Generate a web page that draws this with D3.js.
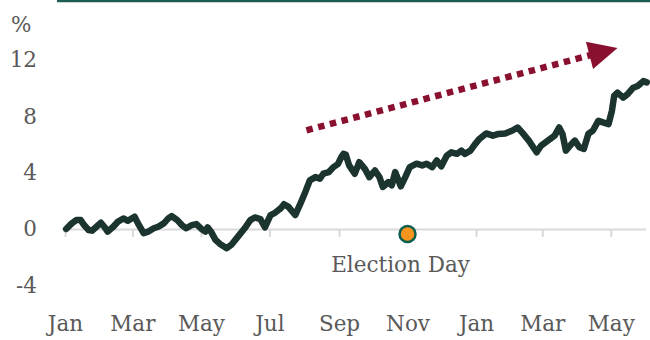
<!DOCTYPE html>
<html>
<head>
<meta charset="utf-8">
<script src="https://cdn.jsdelivr.net/npm/d3@7"></script>
<style>
  body { margin: 0; background: #fff; }
  svg { display: block; }
  text { font-family: "DejaVu Serif", serif; fill: #595959; }
</style>
</head>
<body>
<div id="chart"></div>
<script>
// series (% change)
const dates = [
  "2024-01-02","2024-01-07","2024-01-11","2024-01-15","2024-01-18","2024-01-22","2024-01-25","2024-01-29",
  "2024-02-02","2024-02-05","2024-02-08","2024-02-13","2024-02-17","2024-02-22","2024-02-26",
  "2024-03-03","2024-03-06","2024-03-11","2024-03-15","2024-03-20","2024-03-24","2024-03-29",
  "2024-04-02","2024-04-05","2024-04-10","2024-04-14","2024-04-18","2024-04-23","2024-04-27",
  "2024-05-02","2024-05-05","2024-05-07","2024-05-10","2024-05-14","2024-05-18","2024-05-24","2024-05-28",
  "2024-06-03","2024-06-09","2024-06-14","2024-06-18","2024-06-23","2024-06-27",
  "2024-07-02","2024-07-06","2024-07-11","2024-07-14","2024-07-18","2024-07-24","2024-07-28",
  "2024-08-02","2024-08-06","2024-08-11","2024-08-15","2024-08-18","2024-08-23","2024-08-27","2024-08-31",
  "2024-09-03","2024-09-05","2024-09-07","2024-09-10","2024-09-15","2024-09-19","2024-09-24","2024-09-28",
  "2024-10-03","2024-10-07","2024-10-10","2024-10-15","2024-10-18","2024-10-21","2024-10-26","2024-10-30",
  "2024-11-03","2024-11-09","2024-11-14","2024-11-18","2024-11-23","2024-11-27",
  "2024-12-01","2024-12-06","2024-12-10","2024-12-15","2024-12-19","2024-12-22","2024-12-27","2024-12-31",
  "2025-01-04","2025-01-10","2025-01-16","2025-01-21","2025-01-27",
  "2025-02-02","2025-02-07","2025-02-11","2025-02-17","2025-02-21","2025-02-24","2025-02-28",
  "2025-03-06","2025-03-12","2025-03-16","2025-03-19","2025-03-22","2025-03-27","2025-03-30",
  "2025-04-03","2025-04-07","2025-04-11","2025-04-15","2025-04-20","2025-04-24","2025-04-29",
  "2025-05-02","2025-05-04","2025-05-07","2025-05-12","2025-05-16","2025-05-21","2025-05-25","2025-05-30",
  "2025-06-02"
]
const values = [
  0.0, 0.4, 0.63, 0.63, 0.28, -0.07, -0.12, 0.16,
  0.44, 0.16, -0.19, 0.16, 0.51, 0.75, 0.58,
  0.87, 0.4, -0.3, -0.19, 0.05, 0.16, 0.4,
  0.75, 0.92, 0.63, 0.28, 0.05, 0.28, 0.35,
  -0.02, -0.19, 0.12, -0.19, -0.77, -1.06, -1.36, -1.13,
  -0.54, 0.05, 0.63, 0.82, 0.7, 0.12,
  0.99, 1.15, 1.46, 1.76, 1.57, 0.99, 1.69,
  2.63, 3.45, 3.68, 3.57, 3.92, 4.04, 4.39, 4.6,
  5.1, 5.33, 5.28, 4.51, 3.92, 4.74, 4.27, 3.68,
  4.15, 3.68, 2.98, 3.33, 3.1, 4.04, 3.03, 3.68,
  4.39, 4.63, 4.51, 4.63, 4.39, 4.86,
  4.44, 5.21, 5.44, 5.33, 5.56, 5.33, 5.56, 6.0,
  6.39, 6.78, 6.62, 6.74, 6.78,
  6.97, 7.2, 6.85, 6.27, 5.8, 5.44, 5.92,
  6.27, 6.62, 7.2, 6.74, 5.56, 6.03, 6.27,
  5.8, 5.68, 6.74, 6.97, 7.68, 7.56, 7.44,
  8.38, 9.44, 9.67, 9.32, 9.56, 10.02, 10.14, 10.49,
  10.4
]

// axis ticks
const xTicks = ["2024-01-01","2024-03-01","2024-05-01","2024-07-01","2024-09-01","2024-11-01",
                "2025-01-01","2025-03-01","2025-05-01"]
const yTicks = [-4, 0, 4, 8, 12]

// annotations
const electionDay = { date: "2024-11-01", value: -0.35, label: "Election Day" }
const trendArrow = [
  { date: "2024-08-03", value: 7.0 },
  { date: "2025-05-07", value: 12.84 }
]

const width = 650
const height = 340
const fontSize = "21.5px"
const parse = d3.timeParse("%Y-%m-%d")

const data = dates.map((d, i) => ({ date: parse(d), value: values[i] }))

const svg = d3.select("#chart").append("svg")
  .attr("width", width)
  .attr("height", height)

const x = d3.scaleTime()
  .domain([parse("2024-01-01"), parse("2025-06-01")])
  .range([65, 645.6])
const y = d3.scaleLinear().domain([-4, 12]).range([285.4, 59.8])

// top rule
svg.append("line")
  .attr("x1", 57).attr("x2", width)
  .attr("y1", 1).attr("y2", 1)
  .attr("stroke", "#1d5c52")
  .attr("stroke-width", 2.5)

// y labels
const yAxis = svg.append("g")
  .attr("transform", "translate(37,0)")
  .call(d3.axisLeft(y).tickValues(yTicks).tickSize(0).tickPadding(0)
    .tickFormat(d => String(d)))
yAxis.select(".domain").remove()
yAxis.selectAll("text")
  .attr("font-family", null)
  .attr("fill", null)
  .style("font-size", fontSize)

svg.append("text")
  .attr("x", 11)
  .attr("y", 24)
  .attr("dy", "0.35em")
  .style("font-size", fontSize)
  .text("%")

// zero line with month ticks
const xAxis = svg.append("g")
  .attr("transform", `translate(0,${y(0)})`)
  .call(d3.axisBottom(x)
    .tickValues(xTicks.map(parse))
    .tickSize(8)
    .tickSizeOuter(0)
    .tickPadding(79)
    .tickFormat(d3.timeFormat("%b")))
xAxis.select(".domain").attr("stroke", "#d9d9d9").attr("stroke-width", 2)
xAxis.selectAll(".tick line").attr("stroke", "#d9d9d9").attr("stroke-width", 2)
xAxis.selectAll("text")
  .attr("font-family", null)
  .attr("fill", null)
  .style("font-size", fontSize)

// trend arrow
const a0 = [x(parse(trendArrow[0].date)), y(trendArrow[0].value)]
const a1 = [x(parse(trendArrow[1].date)), y(trendArrow[1].value)]
const len = Math.hypot(a1[0] - a0[0], a1[1] - a0[1])
const ux = (a1[0] - a0[0]) / len
const uy = (a1[1] - a0[1]) / len
const headLen = 29
const headHalf = 14
const base = [a1[0] - ux * headLen, a1[1] - uy * headLen]

svg.append("line")
  .attr("x1", a0[0]).attr("y1", a0[1])
  .attr("x2", base[0] + ux * 2).attr("y2", base[1] + uy * 2)
  .attr("stroke", "#8a1030")
  .attr("stroke-width", 6.5)
  .attr("stroke-dasharray", "6.5,5.6")

svg.append("polygon")
  .attr("points", [
    [base[0] - uy * headHalf, base[1] + ux * headHalf],
    a1,
    [base[0] + uy * headHalf, base[1] - ux * headHalf]
  ].map(p => p.join(",")).join(" "))
  .attr("fill", "#8a1030")

// main line
const line = d3.line()
  .x(d => x(d.date))
  .y(d => y(d.value))

svg.append("path")
  .datum(data)
  .attr("d", line)
  .attr("fill", "none")
  .attr("stroke", "#1b3430")
  .attr("stroke-width", 6.5)
  .attr("stroke-linejoin", "round")
  .attr("stroke-linecap", "round")

// election day marker
const ex = x(parse(electionDay.date))
svg.append("circle")
  .attr("cx", ex)
  .attr("cy", y(electionDay.value))
  .attr("r", 8)
  .attr("fill", "#f7941d")
  .attr("stroke", "#0e5e50")
  .attr("stroke-width", 2.5)

svg.append("text")
  .attr("x", ex - 7)
  .attr("y", y(electionDay.value) + 38)
  .attr("text-anchor", "middle")
  .style("font-size", fontSize)
  .text(electionDay.label)
</script>
</body>
</html>
